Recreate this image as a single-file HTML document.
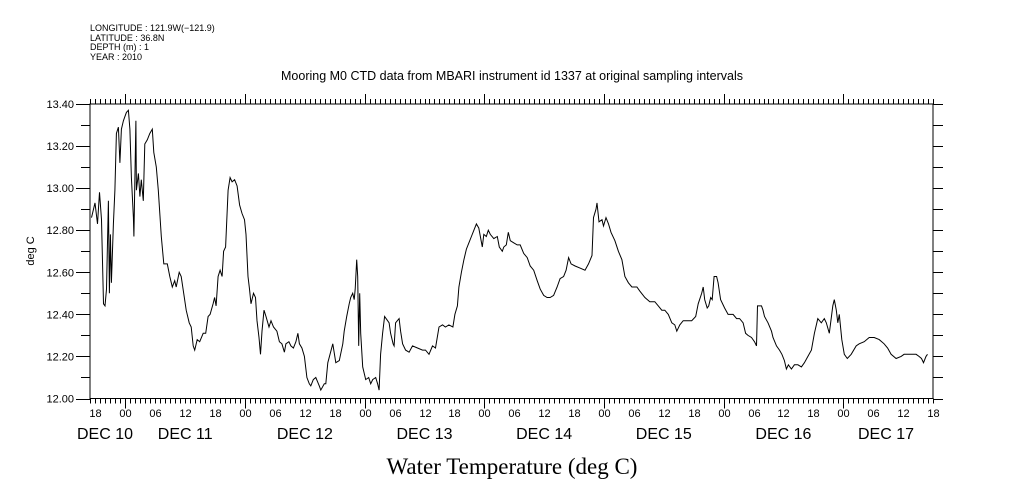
<!DOCTYPE html>
<html><head><meta charset="utf-8"><style>
body{margin:0;background:#fff;width:1009px;height:504px;overflow:hidden}
svg{display:block}
text{font-family:"Liberation Sans",sans-serif;fill:#000}
</style></head><body>
<svg id="chart" width="1009" height="504" viewBox="0 0 1009 504" xmlns="http://www.w3.org/2000/svg">
<g font-size="9">
<text x="90" y="31">LONGITUDE : 121.9W(−121.9)</text>
<text x="90" y="41">LATITUDE : 36.8N</text>
<text x="90" y="50">DEPTH (m) : 1</text>
<text x="90" y="60">YEAR : 2010</text>
</g>
<text x="512" y="80" font-size="12.5" text-anchor="middle">Mooring M0 CTD data from MBARI instrument id 1337 at original sampling intervals</text>
<text transform="translate(34,251) rotate(-90)" font-size="11" text-anchor="middle">deg C</text>
<text x="512" y="474" font-size="23" text-anchor="middle" style="font-family:'Liberation Serif',serif">Water Temperature (deg C)</text>
<g id="axes"></g>
<g id="marks"></g>
</svg>
<script>
const times = [17.2,17.9,18.4,18.8,19.2,19.6,19.9,20.2,20.6,20.8,21.0,21.2,21.6,21.9,22.2,22.6,22.9,23.2,23.6,23.9,24.2,24.6,24.9,25.2,25.6,25.7,25.9,26.1,26.2,26.6,26.9,27.2,27.6,27.9,28.4,28.9,29.4,29.7,30.2,30.6,31.2,31.7,32.4,32.9,33.4,33.9,34.2,34.8,35.2,35.7,36.2,36.8,37.2,37.6,37.9,38.4,38.9,39.6,40.1,40.6,41.0,41.6,41.9,42.2,42.6,43.0,43.4,43.7,44.1,44.6,45.0,45.4,45.9,46.4,46.9,47.4,47.9,48.2,48.6,48.9,49.2,49.7,50.1,50.4,50.8,51.1,51.4,51.8,52.2,52.8,53.2,53.7,54.4,54.9,55.4,55.9,56.2,56.8,57.2,57.7,58.2,58.6,58.9,59.4,59.9,60.4,60.9,61.2,61.7,62.2,62.9,63.2,63.9,64.2,64.6,
65.6,66.2,66.9,67.6,67.9,68.4,68.9,69.2,69.6,69.9,70.1,70.4,70.6,70.8,71.0,71.2,71.6,71.9,72.2,72.8,73.2,73.6,74.2,74.6,74.9,75.2,75.6,76.0,76.6,76.9,77.2,77.7,77.9,78.2,78.9,79.2,79.6,80.2,80.9,81.6,82.6,83.6,84.2,84.9,85.6,86.2,86.9,87.6,88.2,88.9,89.7,90.1,90.6,90.9,91.4,91.9,92.4,92.9,93.4,93.9,94.4,94.9,95.6,95.9,96.4,96.8,97.2,97.9,98.6,99.0,99.6,99.9,100.4,100.8,101.2,101.9,102.6,103.2,103.9,104.6,105.2,105.9,106.6,107.2,107.9,108.6,109.2,109.9,110.6,111.2,111.9,112.4,112.9,113.4,114.2,115.2,116.2,116.9,117.6,117.9,118.4,118.6,119.0,119.6,119.9,120.4,120.9,121.4,122.2,122.9,
123.6,124.2,124.9,125.6,126.6,127.2,128.2,129.2,130.2,130.9,131.6,132.2,132.9,133.6,134.2,134.6,135.2,135.9,136.6,137.6,138.4,138.9,139.6,139.9,140.2,140.7,141.0,141.4,141.7,142.1,142.6,142.9,143.4,144.2,144.9,145.9,146.6,147.2,147.9,148.4,148.9,149.6,150.2,150.6,150.8,151.2,151.6,151.9,152.2,152.9,153.6,153.9,154.6,155.2,155.7,156.2,156.6,157.0,157.6,158.2,158.9,159.6,160.2,160.9,161.6,162.2,162.9,163.6,164.2,164.6,165.2,165.9,166.2,166.6,166.9,167.2,167.7,168.2,168.8,169.6,170.6,171.2,172.2,173.2,174.2,175.2,176.2,176.9,177.6,178.6,179.6,180.2,180.9,181.9,182.6,183.2,183.7,184.1,184.6,184.9];
const temps = [12.86,12.93,12.83,12.98,12.85,12.45,12.44,12.52,12.94,12.50,12.78,12.55,12.83,12.99,13.26,13.29,13.12,13.28,13.32,13.34,13.36,13.37,13.28,13.05,12.86,12.77,13.05,13.32,12.99,13.07,12.96,13.04,12.94,13.21,13.23,13.26,13.28,13.17,13.10,12.99,12.77,12.64,12.64,12.58,12.53,12.56,12.53,12.60,12.58,12.50,12.42,12.36,12.34,12.25,12.23,12.28,12.27,12.31,12.31,12.39,12.40,12.45,12.48,12.44,12.58,12.61,12.58,12.70,12.72,12.99,13.05,13.03,13.04,13.01,12.92,12.88,12.85,12.78,12.58,12.52,12.45,12.50,12.48,12.37,12.29,12.21,12.32,12.42,12.39,12.34,12.37,12.34,12.32,12.27,12.26,12.22,12.26,12.27,12.25,12.24,12.27,12.31,12.26,12.24,12.20,12.10,12.07,12.06,12.09,12.10,12.06,12.04,12.07,12.07,12.17,
12.26,12.17,12.18,12.26,12.32,12.39,12.45,12.48,12.50,12.47,12.52,12.66,12.58,12.25,12.50,12.31,12.15,12.12,12.09,12.10,12.07,12.09,12.10,12.07,12.04,12.21,12.31,12.39,12.37,12.36,12.31,12.26,12.25,12.36,12.38,12.32,12.26,12.23,12.22,12.25,12.24,12.23,12.23,12.21,12.25,12.24,12.34,12.35,12.34,12.35,12.34,12.40,12.44,12.53,12.60,12.66,12.71,12.74,12.77,12.80,12.83,12.81,12.72,12.78,12.77,12.80,12.78,12.76,12.77,12.72,12.70,12.72,12.73,12.79,12.75,12.74,12.73,12.73,12.69,12.67,12.63,12.61,12.56,12.52,12.49,12.48,12.48,12.49,12.53,12.57,12.58,12.61,12.67,12.64,12.63,12.62,12.61,12.64,12.68,12.86,12.90,12.93,12.84,12.85,12.82,12.86,12.83,12.79,12.75,12.70,
12.66,12.58,12.55,12.53,12.53,12.51,12.48,12.46,12.46,12.44,12.42,12.42,12.40,12.36,12.35,12.32,12.35,12.37,12.37,12.37,12.39,12.45,12.50,12.53,12.47,12.43,12.44,12.48,12.47,12.58,12.58,12.55,12.47,12.43,12.40,12.40,12.38,12.38,12.36,12.31,12.30,12.29,12.27,12.25,12.44,12.44,12.44,12.42,12.39,12.36,12.32,12.29,12.25,12.23,12.21,12.18,12.14,12.16,12.14,12.16,12.16,12.15,12.17,12.20,12.23,12.31,12.38,12.36,12.38,12.36,12.31,12.44,12.47,12.42,12.36,12.40,12.28,12.21,12.19,12.21,12.25,12.26,12.27,12.29,12.29,12.28,12.26,12.24,12.21,12.19,12.20,12.21,12.21,12.21,12.21,12.20,12.19,12.17,12.20,12.21];
const yTicks = [12.0,12.2,12.4,12.6,12.8,13.0,13.2,13.4];
const yTickLabels = ["12.00","12.20","12.40","12.60","12.80","13.00","13.20","13.40"];
const dayLabels = ["DEC 10","DEC 11","DEC 12","DEC 13","DEC 14","DEC 15","DEC 16","DEC 17"];
const hourLabels = ["00","06","12","18"];

const X0=90, X1=933, Y0=104, Y1=398.5;
const T0=16.9, T1=186.0, V0=12.0, V1=13.4;
function xs(t){return X0+(t-T0)/(T1-T0)*(X1-X0);}
function ys(v){return Y1-(v-V0)/(V1-V0)*(Y1-Y0);}
const NS='http://www.w3.org/2000/svg';
const axes=document.getElementById('axes'), marks=document.getElementById('marks');
function mk(tag,at,parent){const e=document.createElementNS(NS,tag);for(const k in at)e.setAttribute(k,at[k]);parent.appendChild(e);return e;}

const frame=mk('rect',{x:X0,y:Y0,width:X1-X0,height:Y1-Y0,fill:'none',stroke:'#000','stroke-width':1},axes);



let tp='';
for(let h=17;h<=186;h++){
  const x=Math.round(xs(h))+0.5;
  const major=(h%24===0);
  const len=major?10:5;
  tp+=`M${x} ${Y0}V${Y0-len}M${x} ${Y1}V${Y1+len}`;
  if(h%6===0){
    const tl=mk('text',{x:x,y:417,'font-size':11,'text-anchor':'middle'},axes);
    tl.textContent=hourLabels[(h%24)/6];
    
    
  }
}
for(let i=0;i<=14;i++){
  const v=V0+i*0.1;const y=Math.round(ys(v))+0.5;
  const major=(i%2===0);
  tp+=`M${X0} ${y}H${major?X0-14:X0-9}M${X1} ${y}H${X1+10}`;
}
const ticks=mk('path',{d:tp,stroke:'#000','stroke-width':1,fill:'none'},axes);



yTicks.forEach((v,i)=>{
  const t=mk('text',{x:74,y:ys(v)+4,'font-size':11,'text-anchor':'end'},axes);
  t.textContent=yTickLabels[i];
  
  
});
dayLabels.forEach((d,i)=>{
  let cx;
  if(i===0) cx=105; else if(i===dayLabels.length-1) cx=886; else cx=xs(24*i+12);
  const t=mk('text',{x:cx,y:439,'font-size':16,'text-anchor':'middle'},axes);
  t.textContent=d;
  
  
});

let d='';
times.forEach((t,i)=>{d+=(i?'L':'M')+xs(t).toFixed(1)+' '+ys(temps[i]).toFixed(1);});
const line=mk('path',{d:d,stroke:'#000','stroke-width':1,fill:'none'},marks);


</script>
</body></html>
